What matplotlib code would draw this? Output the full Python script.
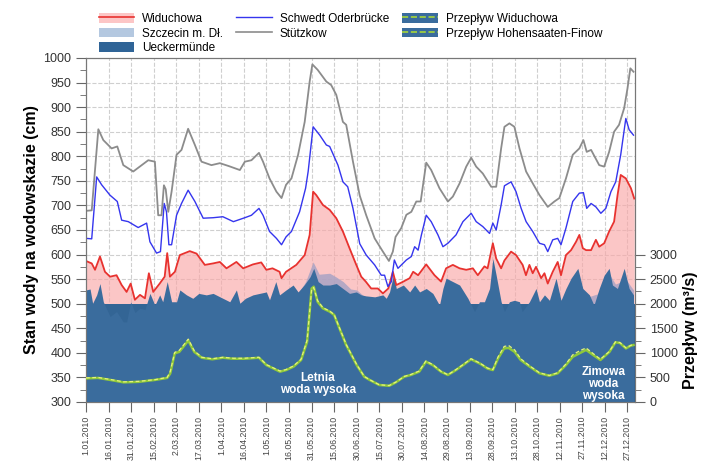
import matplotlib
matplotlib.use('Agg')
import matplotlib.pyplot as plt
from matplotlib.patches import Patch
from matplotlib.lines import Line2D
from matplotlib.ticker import MultipleLocator, FixedLocator

plt.rcParams['font.family'] = ['Liberation Sans', 'DejaVu Sans']

# x values are day numbers counted from 1.01.2010
tick_days = [0, 15, 30, 45, 60, 75, 90, 105, 120, 135, 150, 165, 180, 195, 210,
             225, 240, 255, 270, 285, 300, 315, 330, 345, 360]
tick_labels = ['1.01.2010', '16.01.2010', '31.01.2010', '15.02.2010', '2.03.2010',
               '17.03.2010', '1.04.2010', '16.04.2010', '1.05.2010', '16.05.2010',
               '31.05.2010', '15.06.2010', '30.06.2010', '15.07.2010', '30.07.2010',
               '14.08.2010', '29.08.2010', '13.09.2010', '28.09.2010', '13.10.2010',
               '28.10.2010', '12.11.2010', '27.11.2010', '12.12.2010', '27.12.2010']

# Stützkow (cm)
stu_days = [0, 3.8, 8.2, 11.5, 17, 20.8, 24.8, 31.4, 41.4, 45.8, 48, 50.2, 51.8, 53, 54.7,
            56.9, 60.2, 63.5, 67.9, 72.4, 76.8, 83.4, 89, 95, 102.3, 105.6, 110, 115, 117.7,
            122, 126.6, 130, 133, 136.6, 141, 145.4, 148.7, 150.5, 154, 159.8, 163, 166.4,
            170.8, 173, 177.5, 182, 186.3, 191.9, 197.4, 201.4, 204, 205.8, 209.6, 213,
            216.3, 219.6, 222.5, 226.2, 229.5, 235, 240.6, 243.9, 248.4, 252.8, 256.1,
            259.4, 263.8, 269.4, 272.7, 276, 278.2, 281.5, 284.8, 288.2, 292.6, 297,
            301.5, 307, 311.4, 314.7, 319.1, 323.6, 328, 330.7, 332.9, 335.8, 341.2,
            344.5, 347.8, 351.1, 354.4, 357.8, 360, 361.9, 364]
stu_vals = [689, 690, 855, 833, 816, 820, 782, 769, 792, 789, 680, 680, 741, 733, 687,
            728, 803, 813, 856, 823, 789, 782, 786, 780, 772, 789, 792, 807, 789,
            755, 728, 715, 742, 755, 803, 870, 952, 987, 976, 952, 945, 925,
            870, 864, 789, 720, 680, 633, 606, 587, 606, 636, 654, 681,
            687, 708, 708, 787, 772, 735, 708, 718, 745, 779, 797,
            779, 765, 738, 738, 816, 860, 867, 860, 816, 769, 745,
            721, 697, 708, 715, 755, 803, 816, 833, 809, 813, 782,
            779, 809, 850, 864, 898, 938, 979, 972]

# Schwedt Oderbrücke (cm)
sch_days = [0, 3.8, 7.1, 10.4, 15.9, 20.8, 23.7, 28.1, 34.7, 40.3, 42.5, 46.9, 49.5, 52,
            53.5, 55.1, 56.9, 60.2, 63.5, 67.9, 72.4, 77.9, 84.5, 91, 98, 105.6, 110, 115,
            117.7, 122, 126.6, 130, 133, 136.6, 142, 146, 147.7, 151, 155.4, 159.8, 162,
            167.5, 170.8, 174, 177.5, 182, 186.3, 191.9, 196.3, 198.5, 200.7, 203, 205,
            207.4, 213, 216.3, 218.5, 220.8, 223, 226.2, 229.5, 234, 237.3, 240.6, 246,
            250.6, 256.1, 259.4, 263.8, 268.3, 270.5, 272.7, 276, 278.2, 282.6, 285.9,
            289.3, 292.6, 297, 301.5, 304.8, 307, 310.3, 313.6, 315.8, 319.1, 323.6, 328,
            330.7, 332.9, 335.8, 339, 342.3, 345.6, 349, 352.2, 355.5, 358.9, 361.1, 364]
sch_vals = [633, 632, 758, 742, 721, 708, 670, 667, 655, 664, 626, 603, 606, 704,
            687, 620, 620, 680, 704, 731, 708, 674, 675, 677, 667, 675, 680, 694,
            680, 647, 633, 620, 636, 647, 687, 735, 769, 860, 843, 823, 820,
            782, 748, 738, 694, 622, 599, 579, 558, 558, 535, 545, 589,
            572, 589, 596, 616, 609, 640, 680, 667, 640, 616, 623, 640,
            667, 684, 667, 657, 643, 664, 650, 701, 740, 748, 728,
            694, 667, 647, 623, 620, 606, 630, 633, 620, 654, 708, 725,
            726, 694, 704, 697, 684, 694, 728, 748, 803, 877, 854, 843]

# Widuchowa (cm)
wid_days = [0, 3.8, 6, 9.3, 12.6, 16, 20.3, 23.7, 27, 29.7, 32.5, 35.9, 39.2, 41.8, 44.7,
            49, 52.3, 54, 55.8, 59.1, 62.4, 69, 73.5, 79, 84.5, 89, 93.4, 100, 104.5, 111,
            116.5, 119.9, 124, 128.7, 130, 133, 139.8, 145.4, 148.7, 151, 153.1, 157.5,
            162, 166.4, 170.8, 175.2, 179.7, 183, 186, 189.6, 194, 197.4, 201, 204, 206.3,
            211, 215.2, 217.5, 220.8, 226.2, 231.7, 236.1, 239.4, 243.9, 248.4, 252.8,
            257.2, 260.5, 264.9, 267, 270.5, 272.7, 276, 278.2, 282.6, 285.9, 290.3,
            292.5, 294.8, 297, 299.2, 302.6, 304.8, 307, 310.3, 313.6, 315.8, 319.1,
            322.5, 325.8, 328, 330.3, 332.5, 335.8, 339, 341.2, 344.5, 347.8, 351.1,
            353.4, 355.5, 358.9, 362.3, 364.5]
wid_vals = [587, 582, 569, 596, 565, 555, 558, 538, 524, 541, 508, 518, 511, 562, 524,
            541, 555, 603, 555, 565, 599, 607, 602, 579, 582, 585, 572, 585, 572, 580,
            584, 569, 572, 565, 552, 565, 579, 599, 640, 728, 721, 701,
            691, 674, 647, 613, 579, 555, 545, 531, 531, 521, 531, 565, 538,
            545, 552, 565, 558, 580, 558, 545, 572, 579, 572, 569,
            572, 558, 576, 572, 623, 592, 572, 588, 606, 599, 579,
            558, 579, 562, 575, 552, 562, 541, 565, 585, 558, 599,
            609, 626, 640, 613, 609, 609, 630, 616, 623, 647, 667,
            721, 762, 755, 735, 714]

# Szczecin m. Dł. (cm)
szc_days = [0, 15, 30, 60, 100, 130, 140, 146, 151, 155, 162, 166, 171, 176, 180, 185, 200,
            230, 260, 290, 320, 340, 348, 352, 356, 360, 364]
szc_vals = [465, 445, 445, 480, 490, 500, 515, 545, 585, 560, 562, 555, 545, 530, 528, 515,
            505, 495, 480, 475, 500, 520, 560, 540, 545, 545, 528]

# Ueckermünde (cm)
uck_days = [0, 2.7, 4.4, 7.1, 9.3, 11.5, 16, 20.3, 24.8, 27, 29.7, 32.5, 35.9, 39.2, 42.5,
            45.8, 49, 51, 54, 56.9, 60.2, 62.4, 66.8, 71, 75, 80, 84.5, 91, 95.6, 100,
            102.3, 106, 111, 119.9, 122, 126.2, 128.7, 133, 137.7, 141, 145, 149, 151.4,
            154.3, 157.5, 162, 166.4, 170.8, 175.2, 179.7, 183, 186, 192, 197.4, 199.6,
            201.8, 204.4, 206.3, 211, 215.2, 218.5, 221.8, 226.2, 230.6, 235, 237.3,
            239.4, 243.9, 248.4, 253.9, 258.3, 261.6, 264.9, 268.3, 270.5, 272.7, 276,
            278.2, 281.5, 284.8, 288.2, 290, 294.8, 299.2, 301.5, 304.8, 308.1, 312.5,
            315.8, 319.1, 322.5, 327, 330.3, 334.7, 337.7, 341.2, 344.5, 347.8, 350,
            353.3, 357.8, 361.1, 364]
uck_vals = [528, 530, 501, 518, 541, 504, 474, 484, 463, 463, 504, 482, 491, 488, 521,
            497, 518, 504, 545, 504, 504, 528, 518, 511, 521, 518, 521, 511, 504, 528,
            501, 511, 518, 524, 508, 545, 518, 528, 538, 524, 538, 555, 572,
            545, 538, 538, 541, 531, 521, 524, 518, 516, 514, 518, 511,
            524, 558, 531, 538, 524, 538, 524, 531, 521, 497, 531,
            552, 545, 538, 511, 484, 504, 504, 531, 592, 558, 504,
            484, 504, 507, 504, 484, 504, 531, 504, 518, 507, 552,
            507, 531, 552, 572, 531, 518, 497, 531, 558, 572, 538,
            531, 572, 531, 518]

# Przepływ Widuchowa (m3/s)
qw_days = [0, 8, 16, 25, 35, 46, 54, 56, 59, 62, 68, 72, 77, 84, 91, 98, 105, 115, 120,
           129, 133, 138, 143, 147, 150, 151.4, 154, 157.5, 162, 165, 168.5, 173, 180, 185,
           188.5, 195, 201.6, 206, 211.6, 216, 221.5, 226, 230.6, 236, 240.6, 246, 250.6,
           256, 262, 267, 270.5, 274, 278, 281, 285, 289, 295, 301.5, 308, 313.6, 319,
           323.6, 328, 332.5, 337, 342, 348, 352, 355, 359, 362, 364]
qw_vals = [480, 490, 450, 400, 410, 450, 490, 580, 990, 1020, 1250, 1020, 900, 870, 900,
           880, 880, 900, 750, 617, 650, 720, 855, 1227, 2310, 2346, 2040, 1906, 1840, 1770,
           1500, 1160, 750, 515, 450, 346, 330, 400, 515, 550, 617, 820, 750, 617, 550,
           650, 750, 870, 780, 680, 650, 890, 1090, 1100, 1020, 855, 720, 584, 535, 584,
           750, 920, 990, 1060, 960, 855, 1020, 1215, 1200, 1090, 1145, 1160]

# Przepływ Hohensaaten-Finow (m3/s)
qh_days = [0, 8, 16, 25, 35, 46, 54, 56, 59, 62, 68, 72, 77, 84, 91, 98, 105, 115, 120,
           129, 133, 138, 143, 147, 150, 151.4, 154, 157.5, 162, 165, 168.5, 173, 180, 185,
           188.5, 195, 201.6, 206, 211.6, 216, 221.5, 226, 230.6, 236, 240.6, 246, 250.6,
           256, 262, 267, 270.5, 274, 278, 281, 285, 289, 295, 301.5, 308, 313.6, 319,
           323.6, 328, 332.5, 337, 342, 348, 352, 355, 359, 362, 364]
qh_vals = [490, 500, 460, 410, 420, 455, 500, 620, 1010, 1050, 1280, 1040, 910, 880, 910,
           890, 890, 910, 760, 630, 660, 735, 870, 1260, 2290, 2330, 2060, 1920, 1850, 1780,
           1510, 1170, 760, 520, 455, 350, 335, 405, 520, 560, 630, 835, 760, 625, 555,
           660, 760, 880, 790, 690, 660, 920, 1130, 1150, 1060, 880, 735, 595, 540, 595,
           770, 960, 1040, 1100, 990, 870, 1030, 1225, 1210, 1100, 1150, 1170]

pink = '#f9a8a8'
red = '#e8322f'
blue_line = '#3535ee'
gray_line = '#8c8c8c'
light_blue = '#b4c8e0'
dark_blue = '#3a6c9d'
band_blue = '#336595'

fig = plt.figure(figsize=(7.04, 4.62), dpi=100)
ax = fig.add_axes([86 / 704, 1 - 402 / 462, 549 / 704, 344 / 462])

ax.set_xlim(0, 365)
ax.set_ylim(300, 1000)
ax.grid(True, which='major', color='#cfcfcf', linestyle='--', linewidth=0.8)
ax.set_axisbelow(True)

ax.fill_between(wid_days, 300, wid_vals, color=pink, alpha=0.65, linewidth=0, zorder=2)
ax.fill_between(szc_days, 300, szc_vals, color='#a9a3c4', alpha=0.85, linewidth=0, zorder=3)
ax.axhspan(300, 500, color=band_blue, linewidth=0, zorder=3.5)
ax.fill_between(uck_days, 300, uck_vals, color=dark_blue, linewidth=0, zorder=4)
ax.plot(wid_days, wid_vals, color=red, lw=1.3, zorder=5)
ax.plot(sch_days, sch_vals, color=blue_line, lw=1.0, zorder=5)
ax.plot(stu_days, stu_vals, color=gray_line, lw=1.3, zorder=5)

ax.text(154, 337, 'Letnia\nwoda wysoka', color='white', fontsize=8.5, fontweight='bold',
        ha='center', va='center', linespacing=1.05, zorder=7)
ax.text(344, 336, 'Zimowa\nwoda\nwysoka', color='white', fontsize=8.5, fontweight='bold',
        ha='center', va='center', linespacing=1.0, zorder=7)

ax.yaxis.set_major_locator(MultipleLocator(50))
ax.yaxis.set_minor_locator(MultipleLocator(25))
ax.set_xticks(tick_days)
ax.set_xticklabels(tick_labels, rotation=90, fontsize=6.3, color='#444444')
ax.tick_params(axis='y', which='major', direction='out', length=7, labelsize=9,
               labelcolor='#333333', color='#666666')
ax.tick_params(axis='y', which='minor', direction='out', length=4, color='#666666')
ax.tick_params(axis='x', direction='out', length=7, color='#666666', pad=3)
ax.set_ylabel('Stan wody na wodowskazie (cm)', fontsize=11.5, fontweight='bold', labelpad=3)
for s in ax.spines.values():
    s.set_color('#777777')

ax2 = ax.twinx()
ax2.set_ylim(0, 7000)
ax2.plot(qw_days, qw_vals, color='#8fc83a', lw=1.8, zorder=6)
ax2.plot(qh_days, qh_vals, color='#e4f27c', lw=0.9, linestyle=(0, (3, 2)), zorder=6)
ax2.yaxis.set_major_locator(FixedLocator([0, 500, 1000, 1500, 2000, 2500, 3000]))
ax2.yaxis.set_minor_locator(FixedLocator([250, 750, 1250, 1750, 2250, 2750]))
ax2.tick_params(axis='y', which='major', direction='out', length=7, labelsize=9,
                labelcolor='#333333', color='#666666')
ax2.tick_params(axis='y', which='minor', direction='out', length=4, color='#666666')
ax2.set_ylabel('Przepływ (m³/s)', fontsize=11.5, fontweight='bold')
ax2.yaxis.set_label_coords(1.088, 0.21)
for s in ax2.spines.values():
    s.set_color('#777777')

handles = [
    (Patch(facecolor='#fcc6c6', edgecolor='none'), Line2D([], [], color=red, lw=1.2)),
    Patch(facecolor=light_blue, edgecolor='none'),
    Patch(facecolor='#2f6497', edgecolor='none'),
    Line2D([], [], color=blue_line, lw=1.0),
    Line2D([], [], color=gray_line, lw=1.2),
    (Patch(facecolor=dark_blue, edgecolor='none'),
     Line2D([], [], color='#a6d63a', lw=1.2, linestyle='--')),
    (Patch(facecolor=dark_blue, edgecolor='none'),
     Line2D([], [], color='#a6d63a', lw=1.2, linestyle='--')),
]
labels = ['Widuchowa', 'Szczecin m. Dł.', 'Ueckermünde', 'Schwedt Oderbrücke', 'Stützkow',
          'Przepływ Widuchowa', 'Przepływ Hohensaaten-Finow']
fig.legend(handles, labels, ncol=3, loc='upper left', bbox_to_anchor=(88 / 704, 0.995),
           frameon=False, fontsize=8.5, handlelength=3.0, handleheight=0.9,
           labelspacing=0.22, columnspacing=1.1, handletextpad=0.7)

fig.savefig('out.png', dpi=100)
